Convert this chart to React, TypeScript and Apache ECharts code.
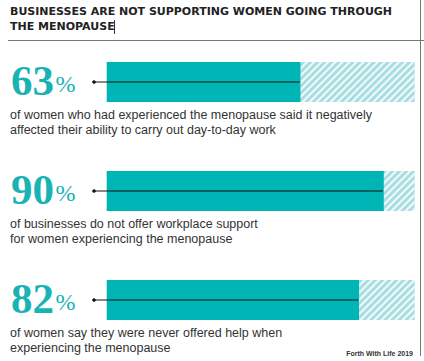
import React, { useEffect, useRef } from "react";
import * as echarts from "echarts";

const categories = ["Women affected at work", "Businesses without support", "Never offered help"];
const percentages = [63, 90, 82];
const descriptions = [
  "of women who had experienced the menopause said it negatively\naffected their ability to carry out day-to-day work",
  "of businesses do not offer workplace support\nfor women experiencing the menopause",
  "of women say they were never offered help when\nexperiencing the menopause",
];
const titleLines = ["BUSINESSES ARE NOT SUPPORTING WOMEN GOING THROUGH", "THE MENOPAUSE"];
const sourceText = "Forth With Life 2019";

const TEAL = "#00B5B5";
const TEAL_TEXT = "#19B3B3";
const HATCH_BG = "#A9DEE1";

export default function App() {
  const ref = useRef<HTMLDivElement>(null);
  useEffect(() => {
    const chart = echarts.init(ref.current!, null, { renderer: "svg" });
    const rest = percentages.map((v) => 100 - v);
    chart.setOption({
      animation: false,
      grid: { left: 106.7, right: 9.3, top: 27.5, bottom: 6.5 },
      xAxis: { type: "value", min: 0, max: 100, show: false },
      yAxis: { type: "category", data: categories, inverse: true, show: false },
      graphic: [
        {
          type: "text",
          x: 10,
          y: 11,
          style: { text: titleLines[0], font: "bold 11px 'DejaVu Sans'", fill: "#222", verticalAlign: "middle" },
        },
        {
          type: "text",
          x: 10,
          y: 26,
          style: { text: titleLines[1], font: "bold 11px 'DejaVu Sans'", fill: "#222", verticalAlign: "middle" },
        },
        { type: "line", shape: { x1: 114.5, y1: 20, x2: 114.5, y2: 34 }, style: { stroke: "#333", lineWidth: 1 } },
        { type: "line", shape: { x1: 8, y1: 40.5, x2: 424, y2: 40.5 }, style: { stroke: "#777", lineWidth: 1 } },
        { type: "line", shape: { x1: 420.5, y1: 0, x2: 420.5, y2: 356 }, style: { stroke: "#777", lineWidth: 1 } },
        {
          type: "text",
          x: 413,
          y: 353,
          style: { text: sourceText, font: "bold 7px 'Liberation Sans'", fill: "#333", align: "right", verticalAlign: "middle" },
        },
      ],
      series: [
        {
          type: "bar",
          stack: "total",
          data: percentages,
          barWidth: 40,
          itemStyle: { color: TEAL },
        },
        {
          type: "bar",
          stack: "total",
          data: rest,
          barWidth: 40,
          itemStyle: {
            color: HATCH_BG,
            decal: {
              symbol: "rect",
              symbolSize: 1,
              dashArrayX: [[1, 0]],
              dashArrayY: [1.5, 2.5],
              rotation: -Math.PI / 4,
              color: "rgba(255,255,255,0.85)",
            },
          },
        },
        {
          type: "custom",
          clip: false,
          z: 5,
          data: percentages.map((v, i) => [v, i]),
          renderItem: (params: any, api: any) => {
            const v = api.value(0);
            const i = api.value(1);
            const end = api.coord([v, i]);
            const start = api.coord([0, i]);
            const y = end[1];
            const dotX = start[0] - 12.7;
            return {
              type: "group",
              children: [
                { type: "line", shape: { x1: dotX, y1: y, x2: end[0] - 1, y2: y }, style: { stroke: "#111", lineWidth: 1 } },
                { type: "circle", shape: { cx: dotX, cy: y, r: 1.8 }, style: { fill: "#111" } },
                {
                  type: "text",
                  x: 11,
                  y: y - 1.5,
                  style: { text: String(percentages[i]), font: "bold 43px 'Liberation Serif'", fill: TEAL_TEXT, verticalAlign: "middle" },
                },
                {
                  type: "text",
                  x: 55.5,
                  y: y + 2.2,
                  style: { text: "%", font: "24px 'Liberation Serif'", fill: TEAL_TEXT, verticalAlign: "middle" },
                },
                {
                  type: "text",
                  x: 10,
                  y: y + 25.5,
                  style: {
                    text: descriptions[i],
                    font: "12.5px 'Liberation Sans'",
                    fill: "#333",
                    lineHeight: 15,
                    verticalAlign: "top",
                  },
                },
              ],
            };
          },
        },
      ],
    });
    return () => chart.dispose();
  }, []);
  return <div ref={ref} style={{ width: 424, height: 361, position: "absolute", left: 0, top: 0 }} />;
}
